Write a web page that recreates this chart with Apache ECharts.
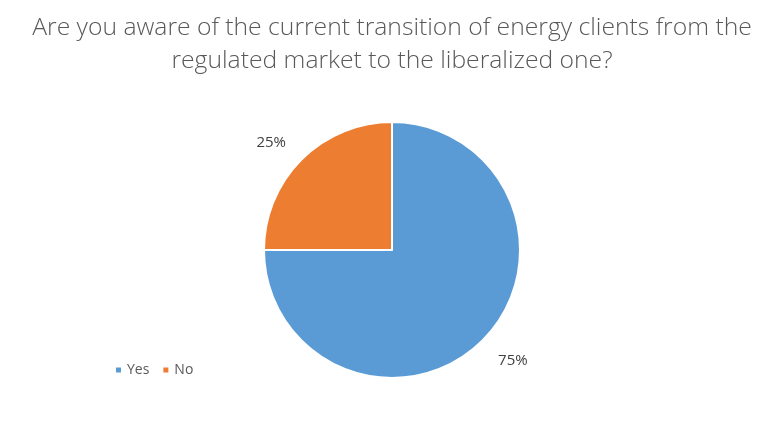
<!DOCTYPE html>
<html><head><meta charset="utf-8">
<script src="https://cdn.jsdelivr.net/npm/echarts@6/dist/echarts.min.js"></script>
<style>html,body{margin:0;padding:0;background:#fff}#c{width:784px;height:426px}</style>
</head><body><div id="c"></div>
<script>
const titleLines = ["Are you aware of the current transition of energy clients from the", "regulated market to the liberalized one?"];
const categories = ["Yes", "No"];
const values = [75, 25];
const colors = ["#5B9BD5", "#ED7D31"];

const chart = echarts.init(document.getElementById('c'));
chart.setOption({
  animation: false,
  title: {
    text: titleLines.join("\n"),
    left: 'center', top: 6,
    textStyle: { fontFamily: 'Open Sans', fontWeight: 300, fontSize: 24.7, color: '#595959', lineHeight: 33 }
  },
  legend: {
    left: 109, top: 358,
    itemWidth: 7, itemHeight: 7, itemGap: 12,
    icon: 'rect',
    textStyle: { fontFamily: 'Open Sans', fontSize: 14, color: '#595959' },
    data: categories
  },
  series: [{
    type: 'pie',
    center: [392, 250],
    radius: [0, 128],
    startAngle: 90,
    clockwise: true,
    color: colors,
    itemStyle: { borderColor: '#fff', borderWidth: 2 },
    label: { show: true, position: 'outside', formatter: '{d}%', fontFamily: 'Open Sans', fontSize: 15, color: '#404040' },
    labelLine: { show: false, length: 22, length2: 0 },
    labelLayout: function (p) { return p.dataIndex === 0 ? { dx: -5, dy: 5 } : { dx: 5, dy: -1 }; },
    emphasis: { disabled: true },
    data: categories.map((c, i) => ({ name: c, value: values[i] }))
  }]
});
</script></body></html>
